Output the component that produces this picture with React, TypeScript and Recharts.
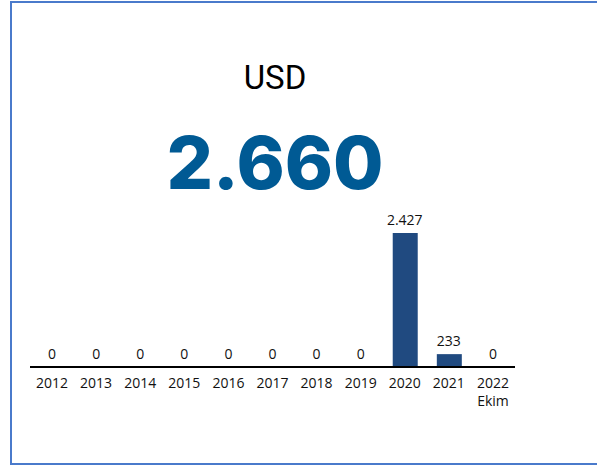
import React from "react";
import { ComposedChart, Bar, Line, XAxis, YAxis, LabelList } from "recharts";

const years = ["2012", "2013", "2014", "2015", "2016", "2017", "2018", "2019", "2020", "2021", "2022\nEkim"];
const values = [0, 0, 0, 0, 0, 0, 0, 0, 2427, 233, 0];
const currency = "USD";
const total = "2.660";

const data = years.map((y, i) => ({ year: y, value: values[i] }));

const fmt = (v: number) => String(v).replace(/\B(?=(\d{3})+(?!\d))/g, ".");

function YearTick(props: any) {
  const { x, y, payload } = props;
  const lines = String(payload.value).split("\n");
  return (
    <text x={x} y={y} textAnchor="middle" fontSize={14} fill="#111" fontFamily="'Open Sans', sans-serif">
      {lines.map((l, i) => (
        <tspan key={i} x={x} dy={i === 0 ? 13 : 18}>{l}</tspan>
      ))}
    </text>
  );
}

export default function App() {
  return (
    <div style={{ position: "absolute", left: 0, top: 0, width: 597, height: 466, overflow: "hidden", background: "#fff" }}>
      {/* frame */}
      <div style={{ position: "absolute", left: 10, top: 1, width: 620, height: 460, border: "2px solid #4a7acb" }} />

      <div style={{ position: "absolute", left: 0, top: 61, width: 550, textAlign: "center", fontFamily: "Roboto, sans-serif", fontSize: 33, lineHeight: 1, color: "#000" }}>
        {currency}
      </div>
      <div style={{ position: "absolute", left: 0, top: 126, width: 550, textAlign: "center", fontFamily: "Inter, sans-serif", fontWeight: 800, fontSize: 73, lineHeight: 1, color: "#005a94" }}>
        {total}
      </div>

      <div style={{ position: "absolute", left: 0, top: 200 }}>
        <ComposedChart width={545} height={220} data={data} margin={{ top: 33, right: 30, left: 30, bottom: 0 }}>
          <XAxis
            dataKey="year"
            height={53}
            interval={0}
            tickLine={false}
            axisLine={{ stroke: "#000", strokeWidth: 2 }}
            tick={<YearTick />}
          />
          <YAxis hide domain={[0, 2427]} />
          <Bar dataKey="value" fill="#204a80" barSize={25} isAnimationActive={false} />
          <Line dataKey="value" stroke="none" dot={false} activeDot={false} isAnimationActive={false}>
            <LabelList
              dataKey="value"
              position="top"
              offset={8}
              formatter={(v: any) => fmt(Number(v))}
              style={{ fontSize: 14, fill: "#111", fontFamily: "'Open Sans', sans-serif" }}
            />
          </Line>
        </ComposedChart>
      </div>
    </div>
  );
}
